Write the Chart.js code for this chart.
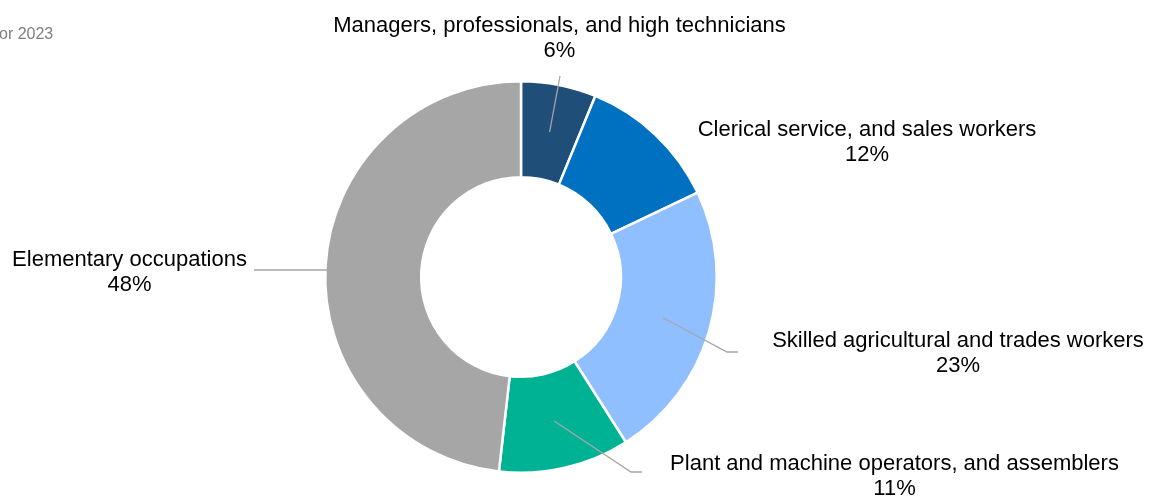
<!DOCTYPE html>
<html>
<head>
<meta charset="utf-8">
<script src="https://cdn.jsdelivr.net/npm/chart.js@4"></script>
<style>
  html, body { margin: 0; padding: 0; background: #ffffff; overflow: hidden; }
  #wrap { position: relative; width: 1157px; height: 497px; }
  #c { position: absolute; left: 0; top: 0; }
  #note { position: absolute; left: -1px; top: 25px; font: 16px "Liberation Sans", Arial, sans-serif; color: #7f7f7f; white-space: nowrap; }
</style>
</head>
<body>
<div id="wrap">
  <canvas id="c" width="1157" height="497"></canvas>
  <div id="note">or 2023</div>
</div>
<script>
const categories = [
  "Managers, professionals, and high technicians",
  "Clerical service, and sales workers",
  "Skilled agricultural and trades workers",
  "Plant and machine operators, and assemblers",
  "Elementary occupations"
];
// shares
const shares = [6.2, 11.7, 23.1, 10.8, 48.2];
const percentLabels = ["6%", "12%", "23%", "11%", "48%"];
const colors = ["#1F4E79", "#0070C0", "#8FBFFF", "#00B294", "#A6A6A6"];

// label layout: text centre x, first-line baseline y, leader path after the segment's centroid
const labelLayout = [
  { x: 559.5, y: 32,  leader: [[560, 76]] },
  { x: 867,   y: 136, leader: null },
  { x: 958,   y: 347, leader: [[727, 352], [738, 352]] },
  { x: 894.5, y: 470, leader: [[631, 472], [642, 472]] },
  { x: 129.5, y: 266, leader: [[254, 270]], horiz: true }
];

const labelPlugin = {
  id: 'outLabels',
  afterDatasetsDraw(chart) {
    const ctx = chart.ctx;
    const meta = chart.getDatasetMeta(0);
    ctx.save();
    meta.data.forEach((arc, i) => {
      const L = labelLayout[i];
      if (L.leader) {
        let p = arc.tooltipPosition();
        if (L.horiz) {
          p = { x: p.x, y: L.leader[0][1] };
        }
        ctx.beginPath();
        ctx.strokeStyle = '#A6A6A6';
        ctx.lineWidth = 1.3;
        ctx.moveTo(p.x, p.y);
        L.leader.forEach(pt => ctx.lineTo(pt[0], pt[1]));
        ctx.stroke();
      }
      ctx.fillStyle = '#000000';
      ctx.font = '22px "Liberation Sans", Arial, sans-serif';
      ctx.textAlign = 'center';
      ctx.textBaseline = 'alphabetic';
      ctx.fillText(categories[i], L.x, L.y);
      ctx.fillText(percentLabels[i], L.x, L.y + 25);
    });
    ctx.restore();
  }
};

new Chart(document.getElementById('c'), {
  type: 'doughnut',
  data: {
    labels: categories,
    datasets: [{
      data: shares,
      backgroundColor: colors,
      borderColor: '#ffffff',
      borderWidth: 2.5,
      hoverOffset: 0
    }]
  },
  options: {
    responsive: false,
    animation: false,
    cutout: '51%',
    layout: { padding: { left: 324, right: 439, top: 80, bottom: 23 } },
    plugins: {
      legend: { display: false },
      tooltip: { enabled: false },
      title: { display: false }
    }
  },
  plugins: [labelPlugin]
});
</script>
</body>
</html>
